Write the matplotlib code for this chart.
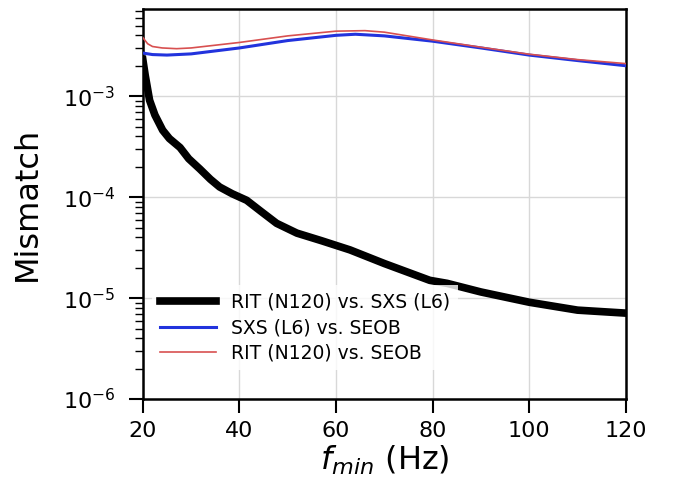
import matplotlib.pyplot as plt
import numpy as np

# values
f_black = [20, 20.5, 21.4, 22.5, 24.1, 25.5, 27.7, 29.5, 31.8, 34, 35.9, 38.5, 41.5, 44.5, 47.7, 51.9,
           57, 62.9, 70, 79.4, 83, 90, 100, 110, 120]
mm_black = [2.3e-3, 1.6e-3, 9.1e-4, 6.5e-4, 4.6e-4, 3.8e-4, 3.1e-4, 2.4e-4, 1.9e-4, 1.5e-4, 1.26e-4,
            1.08e-4, 9.3e-5, 7.2e-5, 5.5e-5, 4.4e-5, 3.7e-5, 3.0e-5, 2.2e-5, 1.5e-5, 1.4e-5,
            1.15e-5, 9.1e-6, 7.6e-6, 7.1e-6]

f_blue = [20, 22, 25, 30, 40, 50, 60, 64, 70, 80, 90, 100, 110, 120]
mm_blue = [2.67e-3, 2.58e-3, 2.55e-3, 2.62e-3, 3.0e-3, 3.55e-3, 4.0e-3, 4.1e-3, 3.95e-3, 3.5e-3,
           3.0e-3, 2.55e-3, 2.25e-3, 2.0e-3]

f_red = [20, 21, 22, 24, 27, 30, 40, 50, 60, 66, 70, 80, 90, 100, 110, 120]
mm_red = [3.8e-3, 3.3e-3, 3.1e-3, 3.0e-3, 2.95e-3, 3.0e-3, 3.4e-3, 3.95e-3, 4.4e-3, 4.45e-3, 4.3e-3,
          3.6e-3, 3.05e-3, 2.6e-3, 2.3e-3, 2.1e-3]

fig = plt.figure(figsize=(6.9, 4.97), dpi=100)
ax = fig.add_axes([0.207, 0.197, 0.700, 0.785])

ax.plot(f_black, mm_black, color='black', lw=5.5, label='RIT (N120) vs. SXS (L6)', zorder=3)
ax.plot(f_blue, mm_blue, color='#2233dd', lw=2.2, label='SXS (L6) vs. SEOB', zorder=3)
ax.plot(f_red, mm_red, color='#d85050', lw=1.2, label='RIT (N120) vs. SEOB', zorder=4)

ax.set_yscale('log')
ax.set_xlim(20, 120)
ax.set_ylim(1e-6, 7.3e-3)
ax.set_xticks([20, 40, 60, 80, 100, 120])
ax.set_yticks([1e-6, 1e-5, 1e-4, 1e-3])
ax.grid(True, which='major', color='#d8d8d8', lw=1.0)

for s in ax.spines.values():
    s.set_linewidth(1.8)
ax.tick_params(which='major', direction='out', length=10, width=1.5, labelsize=16, pad=6)
ax.tick_params(axis='y', which='major', pad=10)
ax.tick_params(which='minor', direction='out', length=6, width=1.0)

ax.set_xlabel('$f_{min}$ (Hz)', fontsize=23, labelpad=2)
ax.set_ylabel('Mismatch', fontsize=23, labelpad=14)

leg = ax.legend(loc='lower left', bbox_to_anchor=(0.0, 0.05), fontsize=13.5, handlelength=3.0,
                labelspacing=0.35, frameon=True, framealpha=0.8, edgecolor='none', fancybox=False)

fig.savefig('out.png', dpi=100)
